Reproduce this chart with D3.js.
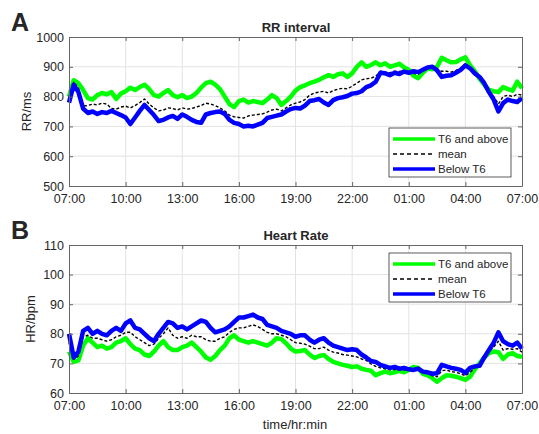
<!DOCTYPE html>
<html>
<head>
<meta charset="utf-8">
<script src="https://cdn.jsdelivr.net/npm/d3@7"></script>
<style>
  body { margin: 0; background: #fff; }
  text { font-family: "Liberation Sans", Arial, sans-serif; fill: #262626; }
</style>
</head>
<body>
<div id="wrapper"></div>
<script>
// hours after 07:00, one sample every 15 minutes
const hours = d3.range(0, 24.001, 0.25)
const tickHours = [0, 3, 6, 9, 12, 15, 18, 21, 24]
const tickLabels = ["07:00", "10:00", "13:00", "16:00", "19:00", "22:00", "01:00", "04:00", "07:00"]
const seriesNames = ["T6 and above", "mean", "Below T6"]

const rrTicks = [500, 600, 700, 800, 900, 1000]
const hrTicks = [60, 70, 80, 90, 100, 110]

const rrAbove = [800, 855, 845, 822, 795, 790, 805, 812, 808, 815, 792, 810, 818, 830, 822, 832,
    840, 825, 805, 800, 812, 822, 805, 798, 805, 795, 800, 812, 830, 845, 850, 840,
    825, 800, 775, 765, 785, 790, 780, 785, 782, 778, 790, 805, 795, 772, 785, 800,
    820, 832, 838, 845, 850, 856, 865, 872, 866, 875, 878, 866, 878, 900, 915, 900,
    906, 915, 905, 912, 900, 905, 910, 898, 890, 870, 862, 880, 895, 892, 900, 930,
    922, 915, 916, 925, 932, 905, 885, 860, 840, 822, 818, 815, 832, 825, 820, 850, 828]
const rrMean = [790, 848, 830, 768, 770, 775, 772, 778, 775, 760, 758, 765, 768, 762, 770, 780,
    792, 775, 762, 752, 755, 762, 760, 755, 762, 758, 760, 765, 770, 778, 775, 770,
    762, 752, 738, 732, 730, 728, 735, 738, 740, 742, 748, 755, 758, 752, 762, 772,
    778, 782, 790, 805, 812, 815, 818, 812, 820, 825, 828, 826, 835, 845, 856, 860,
    862, 868, 885, 882, 880, 885, 884, 886, 882, 878, 875, 886, 896, 897, 892, 885,
    885, 882, 888, 895, 910, 898, 880, 862, 842, 818, 800, 775, 800, 805, 800, 808, 805]
const rrBelow = [780, 840, 815, 760, 745, 750, 742, 748, 745, 752, 745, 738, 730, 708, 730, 752,
    772, 755, 738, 718, 722, 730, 735, 725, 740, 732, 722, 715, 712, 740, 745, 748,
    750, 742, 722, 712, 708, 700, 702, 700, 706, 712, 728, 732, 736, 740, 750, 758,
    762, 760, 770, 785, 788, 792, 780, 772, 788, 795, 798, 802, 810, 812, 818, 832,
    838, 850, 880, 878, 872, 880, 876, 884, 880, 885, 882, 890, 898, 900, 888, 866,
    870, 872, 880, 890, 905, 895, 878, 866, 845, 815, 790, 750, 778, 790, 785, 782, 795]

const hrAbove = [74, 70.5, 71, 76, 78.5, 77, 75.5, 76, 75, 75.5, 77, 77.5, 78.5, 76.5, 75, 74.5,
    73, 72.5, 74, 76, 77.5, 75.5, 74.5, 74.5, 75.5, 76, 77, 75.5, 74, 72, 71.2, 72.5,
    74.5, 76, 78.5, 79.5, 78, 77.5, 77, 77.5, 77, 76.5, 76, 77, 78.5, 78.2, 76.8, 75,
    74, 74.2, 74.5, 73, 71.8, 72.5, 72.8, 71.5, 70.5, 70, 69.5, 69.2, 68.8, 69, 68.2, 67.8,
    67.5, 66, 66.7, 67.2, 66.7, 67, 67.5, 67, 67.8, 68.8, 68.5, 66.5, 66, 65, 63.8, 65,
    66, 65.8, 65.5, 65, 64.4, 65.5, 68, 70, 72, 73.5, 74, 73.8, 71.5, 73, 73.5, 72.5, 72.2]
const hrMean = [77, 71.5, 72.5, 79, 79.5, 78.5, 78.5, 78, 77.5, 78, 79, 79.5, 80.5, 80.5, 79, 78,
    77, 76, 76.5, 78.5, 80, 82, 79.5, 78.5, 79, 78.5, 79.5, 79, 79, 78, 77.5, 77.5,
    78.5, 79, 80.5, 81.5, 82, 82, 82.5, 83, 82.5, 81.5, 80.5, 80, 80, 79.5, 79, 78,
    77, 76.8, 76.5, 75.8, 75, 75, 75.5, 74.5, 73.8, 73.5, 73, 72.8, 72.5, 72.2, 71.5, 71,
    69.8, 69, 68.5, 68.2, 67.8, 68, 67.8, 67.8, 68, 68.2, 68.4, 67, 66.6, 65.8, 65.5, 67.5,
    67.8, 67.2, 67, 66.5, 65.8, 67, 68.5, 69.5, 72, 74, 75.5, 77.5, 74.5, 75, 74.8, 75, 73.8]
const hrBelow = [80, 72, 74, 81, 82, 80, 81, 80, 79.5, 81, 82, 81, 83.5, 84.5, 82, 81.5,
    80, 78.5, 77.5, 80, 82, 84, 83.5, 82, 82.5, 81.5, 82.5, 83.5, 84.5, 84, 82, 80.5,
    81, 81.5, 82.5, 84, 85.5, 85.5, 86, 86.5, 85.5, 85, 83, 82.5, 82, 81, 80.5, 80,
    79, 79.5, 79.5, 78, 77, 78, 78.5, 77, 76, 75.5, 75, 74.5, 74.8, 74.5, 73, 72,
    70.8, 70.5, 69.5, 69, 68.5, 68.8, 68.2, 68.5, 68, 67.8, 68.2, 67.2, 67, 66.5, 66.7, 69.5,
    69, 68.5, 68.2, 67.8, 66.8, 68.5, 69, 69.2, 72, 74.5, 77, 80.5, 77.5, 76.5, 76, 77, 75]

const dimensions = { width: 539, height: 434, left: 69, right: 522 }

const svg = d3.select("#wrapper")
    .append("svg")
    .attr("width", dimensions.width)
    .attr("height", dimensions.height)

const xScale = d3.scaleLinear()
    .domain([0, 24])
    .range([dimensions.left, dimensions.right])

const styles = [
    { color: "#00ff00", width: 4.5, dash: null },
    { color: "#000000", width: 1.4, dash: "3,2" },
    { color: "#0000ff", width: 4.5, dash: null },
]
const legendStyles = [
    { color: "#00ff00", width: 3.5, dash: null },
    { color: "#000000", width: 1.3, dash: "4,3" },
    { color: "#0000ff", width: 3.5, dash: null },
]

function drawPanel(p) {
    const yScale = d3.scaleLinear()
        .domain(d3.extent(p.yTicks))
        .range([p.bottom, p.top])

    const g = svg.append("g")

    // grid
    g.append("g").selectAll("line")
        .data(tickHours.slice(1, -1))
        .join("line")
        .attr("x1", d => xScale(d)).attr("x2", d => xScale(d))
        .attr("y1", p.top).attr("y2", p.bottom)
        .attr("stroke", "#e3e3e3")
    g.append("g").selectAll("line")
        .data(p.yTicks.slice(1, -1))
        .join("line")
        .attr("x1", dimensions.left).attr("x2", dimensions.right)
        .attr("y1", d => yScale(d)).attr("y2", d => yScale(d))
        .attr("stroke", "#e3e3e3")

    // series
    const line = d3.line()
        .x((d, i) => xScale(hours[i]))
        .y(d => yScale(d))
    p.series.forEach((s, k) => {
        g.append("path")
            .datum(s)
            .attr("fill", "none")
            .attr("stroke", styles[k].color)
            .attr("stroke-width", styles[k].width)
            .attr("stroke-dasharray", styles[k].dash)
            .attr("stroke-linejoin", "round")
            .attr("d", line)
    })

    // axes (ticks inside, box all round)
    const xAxis = d3.axisBottom(xScale)
        .tickValues(tickHours)
        .tickFormat((d, i) => tickLabels[i])
        .tickSizeInner(-4).tickSizeOuter(0).tickPadding(8)
    g.append("g")
        .attr("transform", `translate(0, ${p.bottom})`)
        .call(xAxis)
    g.append("g")
        .attr("transform", `translate(0, ${p.top})`)
        .call(d3.axisTop(xScale).tickValues(tickHours).tickFormat("").tickSizeInner(-4).tickSizeOuter(0))
    g.append("g")
        .attr("transform", `translate(${dimensions.left}, 0)`)
        .call(d3.axisLeft(yScale).tickValues(p.yTicks).tickFormat(d3.format("d"))
            .tickSizeInner(-4).tickSizeOuter(0).tickPadding(5))
    g.append("g")
        .attr("transform", `translate(${dimensions.right}, 0)`)
        .call(d3.axisRight(yScale).tickValues(p.yTicks).tickFormat("").tickSizeInner(-4).tickSizeOuter(0))

    g.selectAll(".domain").attr("stroke", "#666")
    g.selectAll(".tick line").attr("stroke", "#666")
    g.selectAll(".tick text")
        .style("font-size", "12.5px")
        .attr("fill", "#262626")

    // title, panel letter, y label
    svg.append("text")
        .attr("x", 296).attr("y", p.top - 5)
        .attr("text-anchor", "middle")
        .style("font-weight", "bold").style("font-size", "13px")
        .text(p.title)
    svg.append("text")
        .attr("x", 11).attr("y", p.top - 6)
        .style("font-weight", "bold").style("font-size", "25px")
        .attr("fill", "#000")
        .text(p.letter)
    svg.append("text")
        .attr("transform", `translate(${p.yLabelX}, ${(p.top + p.bottom) / 2}) rotate(-90)`)
        .attr("text-anchor", "middle")
        .style("font-size", "13px")
        .text(p.yLabel)

    // legend
    const lg = svg.append("g").attr("transform", `translate(389, ${p.legendTop})`)
    lg.append("rect")
        .attr("width", 122).attr("height", 49)
        .attr("fill", "#fff").attr("stroke", "#333").attr("stroke-width", 0.8)
    seriesNames.forEach((name, k) => {
        const y = 11 + k * 15
        lg.append("line")
            .attr("x1", 4).attr("x2", 46).attr("y1", y).attr("y2", y)
            .attr("stroke", legendStyles[k].color)
            .attr("stroke-width", legendStyles[k].width)
            .attr("stroke-dasharray", legendStyles[k].dash)
        lg.append("text")
            .attr("x", 49).attr("y", y + 4)
            .style("font-size", "11.5px")
            .text(name)
    })
}

drawPanel({
    top: 37, bottom: 186, yTicks: rrTicks,
    series: [rrAbove, rrMean, rrBelow],
    title: "RR interval", letter: "A", yLabel: "RR/ms", yLabelX: 31, legendTop: 128,
})
drawPanel({
    top: 245, bottom: 393, yTicks: hrTicks,
    series: [hrAbove, hrMean, hrBelow],
    title: "Heart Rate", letter: "B", yLabel: "HR/bpm", yLabelX: 35, legendTop: 253,
})

svg.append("text")
    .attr("x", 295).attr("y", 429)
    .attr("text-anchor", "middle")
    .style("font-size", "13px")
    .text("time/hr:min")
</script>
</body>
</html>
